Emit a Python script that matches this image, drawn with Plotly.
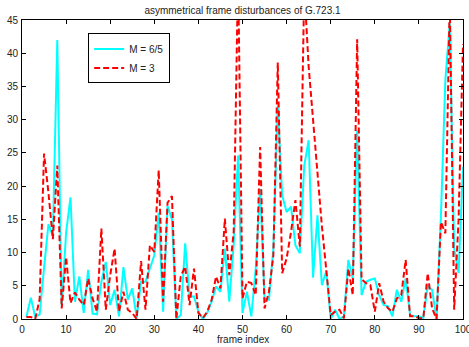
import plotly.graph_objects as go

frames = list(range(1, 101))

m65 = [0.3, 3.2, 0.3, 0.7, 7.7, 14.3, 12.5, 42.0, 2.0, 13.0,
       18.3, 2.6, 6.4, 0.9, 7.4, 0.8, 0.7, 5.6, 8.6, 2.1,
       4.4, 0.4, 7.8, 2.9, 4.6, 0.2, 5.6, 5.6, 7.6, 9.6,
       16.0, 1.1, 17.0, 15.0, 0.0, 0.6, 11.4, 3.4, 3.4, 1.1,
       0.0, 0.9, 2.6, 4.9, 4.1, 10.6, 2.6, 11.1, 24.6, 0.9,
       4.1, 0.4, 7.6, 19.6, 3.1, 2.9, 10.6, 32.1, 18.6, 16.1,
       16.9, 11.1, 9.9, 23.1, 26.9, 6.2, 15.6, 5.1, 7.2, 0.0,
       1.4, 0.0, 0.4, 8.9, 6.1, 28.4, 3.6, 5.6, 5.9, 6.1,
       3.6, 2.1, 1.9, 0.4, 4.4, 2.6, 6.1, 0.6, 0.4, 0.4,
       0.15, 4.9, 4.4, 0.0, 15.6, 36.0, 44.5, 10.6, 6.9, 22.9]

m3 = [0.3, 0.3, 0.0, 3.0, 24.9, 19.0, 12.0, 23.1, 1.6, 9.3,
      2.4, 4.0, 2.9, 2.1, 6.1, 3.1, 1.1, 13.6, 1.4, 6.6,
      10.6, 1.1, 4.1, 1.4, 0.9, 0.0, 8.7, 1.4, 11.1, 10.1,
      22.4, 2.6, 17.5, 18.5, 0.0, 6.4, 7.9, 2.1, 7.6, 0.9,
      0.15, 1.1, 2.9, 6.4, 4.6, 15.1, 6.6, 13.1, 52.0, 3.1,
      5.6, 5.4, 3.6, 25.9, 1.6, 4.1, 9.6, 38.6, 6.9, 9.1,
      13.1, 17.9, 10.9, 50.0, 38.0, 30.0, 21.0, 14.0, 7.4, 0.6,
      1.1, 1.4, 0.1, 7.6, 3.6, 42.1, 6.0, 5.4, 5.1, 1.1,
      5.4, 2.6, 1.6, 1.1, 3.1, 3.6, 8.9, 0.4, 0.4, 0.15,
      0.1, 6.9, 1.6, 0.0, 14.6, 12.9, 48.0, 1.4, 15.0, 41.4]

x_ticks = list(range(0, 101, 10))
y_ticks = list(range(0, 46, 5))

font_family = "Liberation Sans, Arial, sans-serif"
txt_color = "#222"

fig = go.Figure()
fig.add_trace(go.Scatter(x=frames, y=m65, mode="lines", name="M = 6/5",
                         line=dict(color="#00FFFF", width=2)))
fig.add_trace(go.Scatter(x=frames, y=m3, mode="lines", name="M = 3",
                         line=dict(color="#FF0000", width=2, dash="6px,3px")))

axis_common = dict(showline=True, linecolor="black", linewidth=1, mirror="ticks",
                   ticks="inside", ticklen=4, tickcolor="black", showgrid=False,
                   zeroline=False, automargin=False, ticklabeloverflow="allow",
                   tickfont=dict(family=font_family, size=10, color=txt_color))

fig.update_layout(
    width=469, height=347,
    margin=dict(l=22, r=6, t=20, b=28, autoexpand=False),
    paper_bgcolor="white", plot_bgcolor="white",
    font=dict(family=font_family, size=10, color=txt_color),
    title=dict(text="asymmetrical frame disturbances of G.723.1",
               x=0.5, xanchor="center", xref="paper",
               y=1 - 10 / 347, yref="container", yanchor="middle", automargin=False,
               font=dict(size=10, family=font_family, color=txt_color)),
    xaxis=dict(range=[0, 100], tickvals=x_ticks, ticktext=[str(v) for v in x_ticks],
               ticklabelstandoff=1, **axis_common),
    yaxis=dict(range=[0, 45], tickvals=y_ticks, ticktext=[str(v) for v in y_ticks],
               ticklabelstandoff=1, **axis_common),
    legend=dict(x=0.15, y=0.955, xanchor="left", yanchor="top",
                bgcolor="white", bordercolor="black", borderwidth=1,
                font=dict(size=10, family=font_family, color=txt_color),
                tracegroupgap=0, itemwidth=30),
    showlegend=True,
    annotations=[dict(text="frame index", x=0.5, xref="paper", xanchor="center",
                      y=-0.044, yref="paper", yanchor="top",
                      showarrow=False,
                      font=dict(size=10, family=font_family, color=txt_color))],
)

fig.write_html("out.html",
               config={"displayModeBar": False},
               post_script="document.body.style.margin='0';document.body.style.overflow='hidden';")
